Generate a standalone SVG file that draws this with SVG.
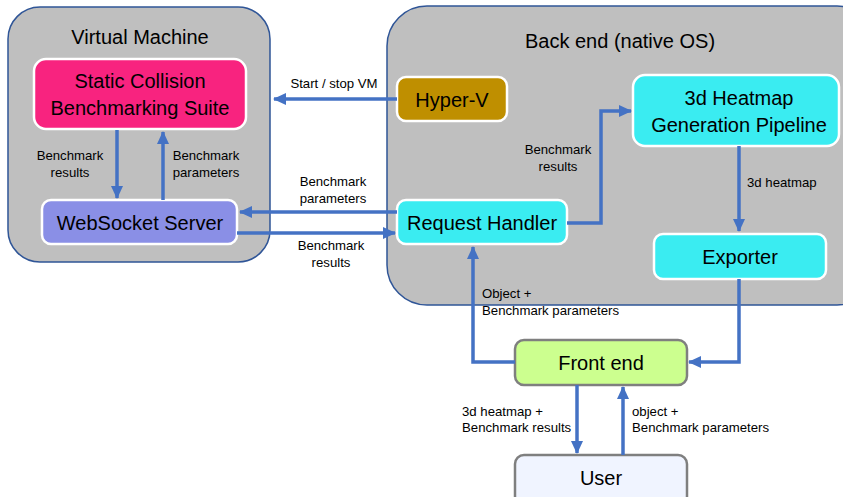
<svg xmlns="http://www.w3.org/2000/svg" width="843" height="497" viewBox="0 0 843 497">
<style>
.cont{fill:#bfbfbf;stroke:#2f5597;stroke-width:1.5}
.box{stroke:#ffffff;stroke-width:2.5}
.gbox{stroke:#7f7f7f;stroke-width:2.5}
.big{font-family:"Liberation Sans",Arial,sans-serif;font-size:20px;fill:#000;text-anchor:middle}
.title{font-family:"Liberation Sans",Arial,sans-serif;font-size:20px;fill:#000;text-anchor:middle}
.lbl{font-family:"Liberation Sans",Arial,sans-serif;font-size:13.2px;fill:#000}
.c{text-anchor:middle}
.conn{fill:none;stroke:#4472c4;stroke-width:3.5}
</style>
<defs>
<marker id="ah" markerUnits="userSpaceOnUse" markerWidth="14" markerHeight="14" viewBox="0 0 14 14" refX="12" refY="7" orient="auto">
<path d="M0,1 L13,7 L0,13 Z" fill="#4472c4"/>
</marker>
</defs>
<g id="vm">
<rect class="cont" x="8" y="7" width="262" height="255" rx="32"/>
<text class="title" x="140" y="44">Virtual Machine</text>
</g>
<g id="backend">
<rect class="cont" x="387" y="6" width="490" height="299" rx="40"/>
<text class="title" x="620" y="48">Back end (native OS)</text>
</g>
<g id="static">
<rect class="box" x="34" y="59" width="212" height="70" rx="12" fill="#f8237f"/>
<text class="big" x="140" y="88">Static Collision</text>
<text class="big" x="140" y="115">Benchmarking Suite</text>
</g>
<g id="websocket">
<rect class="box" x="42" y="200" width="195" height="44" rx="9" fill="#8a8fe6"/>
<text class="big" x="140" y="230">WebSocket Server</text>
</g>
<g id="hyperv">
<rect class="box" x="397" y="77" width="110" height="44" rx="9" fill="#bf8f00"/>
<text class="big" x="452" y="107">Hyper-V</text>
</g>
<g id="heatmap">
<rect class="box" x="633" y="75" width="206" height="71" rx="12" fill="#3aecf1"/>
<text class="big" x="739" y="105">3d Heatmap</text>
<text class="big" x="739" y="132">Generation Pipeline</text>
</g>
<g id="request">
<rect class="box" x="397" y="200" width="170" height="44" rx="9" fill="#3aecf1"/>
<text class="big" x="482" y="230">Request Handler</text>
</g>
<g id="exporter">
<rect class="box" x="654" y="234" width="172" height="45" rx="9" fill="#3aecf1"/>
<text class="big" x="740" y="264">Exporter</text>
</g>
<g id="frontend">
<rect class="gbox" x="515" y="340" width="172" height="45" rx="9" fill="#ccff8f"/>
<text class="big" x="601" y="370">Front end</text>
</g>
<g id="user">
<rect class="gbox" x="515" y="455" width="172" height="50" rx="9" fill="#f0f4ff"/>
<text class="big" x="601" y="485">User</text>
</g>
<g id="connectors">
<path class="conn" d="M397,99 L274,99" marker-end="url(#ah)"/>
<path class="conn" d="M117,130 L117,198" marker-end="url(#ah)"/>
<path class="conn" d="M163,200 L163,132" marker-end="url(#ah)"/>
<path class="conn" d="M397,212 L240,212" marker-end="url(#ah)"/>
<path class="conn" d="M237,233 L395,233" marker-end="url(#ah)"/>
<path class="conn" d="M567,223 L601,223 L601,111 L631,111" marker-end="url(#ah)"/>
<path class="conn" d="M739,146 L739,231" marker-end="url(#ah)"/>
<path class="conn" d="M739,279 L739,362 L689,362" marker-end="url(#ah)"/>
<path class="conn" d="M515,362 L473,362 L473,247" marker-end="url(#ah)"/>
<path class="conn" d="M577,385 L577,453" marker-end="url(#ah)"/>
<path class="conn" d="M623,455 L623,387" marker-end="url(#ah)"/>
</g>
<g id="labels">
<text class="lbl c" x="334" y="88">Start / stop VM</text>
<text class="lbl c" x="70" y="160">Benchmark</text>
<text class="lbl c" x="70" y="177">results</text>
<text class="lbl c" x="206" y="160">Benchmark</text>
<text class="lbl c" x="206" y="177">parameters</text>
<text class="lbl c" x="333" y="186">Benchmark</text>
<text class="lbl c" x="333" y="203">parameters</text>
<text class="lbl c" x="331" y="250">Benchmark</text>
<text class="lbl c" x="331" y="267">results</text>
<text class="lbl c" x="558" y="154">Benchmark</text>
<text class="lbl c" x="558" y="171">results</text>
<text class="lbl" x="747" y="187">3d heatmap</text>
<text class="lbl" x="482" y="298">Object +</text>
<text class="lbl" x="482" y="315">Benchmark parameters</text>
<text class="lbl" x="462" y="416">3d heatmap +</text>
<text class="lbl" x="462" y="432">Benchmark results</text>
<text class="lbl" x="632" y="416">object +</text>
<text class="lbl" x="632" y="432">Benchmark parameters</text>
</g>
</svg>
